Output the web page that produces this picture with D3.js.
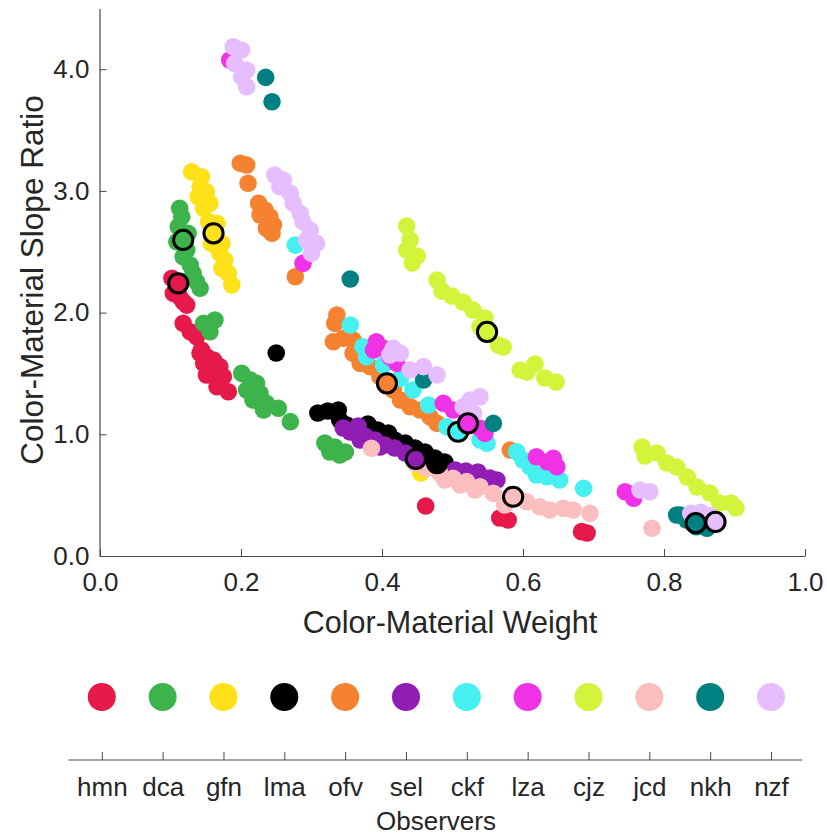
<!DOCTYPE html>
<html>
<head>
<meta charset="utf-8">
<script src="https://cdn.jsdelivr.net/npm/d3@7/dist/d3.min.js"></script>
<style>
  html, body { margin: 0; padding: 0; background: #fff; }
  svg { display: block; font-family: "Liberation Sans", Arial, Helvetica, sans-serif; }
</style>
</head>
<body>
<svg id="chart" width="827" height="837"></svg>
<script>
// ---------------- data ----------------
const observers = ["hmn","dca","gfn","lma","ofv","sel","ckf","lza","cjz","jcd","nkh","nzf"];
const palette = ["#E6194B","#3CB44B","#FFE119","#000000","#F58231","#911EB4","#46F0F0","#F032E6","#D2F53C","#FABEBE","#008080","#E6BEFF"];

const xTicks = [0.0, 0.2, 0.4, 0.6, 0.8, 1.0];
const yTicks = [0.0, 1.0, 2.0, 3.0, 4.0];

const hmn = [[0.102,2.282],[0.111,2.241],[0.104,2.159],[0.113,2.131],[0.118,2.090],[0.123,2.062],[0.118,1.912],[0.128,1.843],[0.137,1.802],[0.142,1.666],[0.144,1.693],[0.151,1.638],[0.147,1.583],[0.161,1.611],[0.156,1.528],[0.170,1.556],[0.151,1.487],[0.166,1.446],[0.175,1.474],[0.166,1.391],[0.182,1.350],[0.462,0.411],[0.567,0.312],[0.579,0.296],[0.683,0.200],[0.691,0.189]];
const dca = [[0.113,2.857],[0.116,2.788],[0.111,2.706],[0.125,2.652],[0.118,2.597],[0.109,2.583],[0.123,2.514],[0.118,2.459],[0.128,2.391],[0.132,2.323],[0.137,2.254],[0.142,2.200],[0.147,1.912],[0.156,1.898],[0.163,1.939],[0.156,1.843],[0.201,1.501],[0.213,1.446],[0.222,1.419],[0.208,1.364],[0.227,1.337],[0.217,1.282],[0.236,1.255],[0.232,1.200],[0.253,1.214],[0.270,1.104],[0.319,0.929],[0.333,0.896],[0.340,0.830],[0.348,0.855],[0.326,0.855]];
const gfn = [[0.130,3.158],[0.144,3.117],[0.142,3.035],[0.151,2.993],[0.139,2.952],[0.156,2.898],[0.147,2.857],[0.154,2.747],[0.166,2.734],[0.161,2.652],[0.158,2.569],[0.173,2.569],[0.170,2.487],[0.177,2.432],[0.173,2.364],[0.182,2.323],[0.187,2.227],[0.455,0.682]];
const lma = [[0.250,1.668],[0.309,1.175],[0.323,1.191],[0.338,1.200],[0.340,1.118],[0.350,1.076],[0.366,1.052],[0.380,1.085],[0.394,1.035],[0.409,1.011],[0.418,0.953],[0.433,0.929],[0.447,0.887],[0.461,0.855],[0.475,0.805],[0.489,0.772]];
const ofv = [[0.199,3.227],[0.208,3.213],[0.210,3.063],[0.225,2.898],[0.234,2.843],[0.227,2.802],[0.241,2.788],[0.246,2.720],[0.236,2.693],[0.244,2.652],[0.277,2.295],[0.336,1.980],[0.333,1.912],[0.331,1.761],[0.345,1.789],[0.359,1.775],[0.359,1.666],[0.369,1.583],[0.383,1.556],[0.397,1.474],[0.407,1.419],[0.416,1.364],[0.426,1.282],[0.440,1.227],[0.454,1.200],[0.468,1.145],[0.478,1.090],[0.582,0.871]];
const sel = [[0.345,1.052],[0.355,1.019],[0.366,1.068],[0.376,0.986],[0.369,0.953],[0.390,0.953],[0.397,0.896],[0.404,0.912],[0.418,0.887],[0.433,0.846],[0.443,0.805],[0.448,0.797],[0.468,0.740],[0.482,0.723],[0.504,0.707],[0.519,0.698],[0.536,0.690],[0.553,0.641],[0.563,0.624]];
const ckf = [[0.277,2.555],[0.355,1.898],[0.373,1.720],[0.378,1.638],[0.402,1.569],[0.426,1.460],[0.444,1.364],[0.466,1.241],[0.492,1.062],[0.508,1.021],[0.539,0.953],[0.549,0.926],[0.591,0.857],[0.600,0.789],[0.610,0.734],[0.619,0.666],[0.634,0.652],[0.652,0.624],[0.686,0.556]];
const lza = [[0.184,4.076],[0.288,2.405],[0.388,1.693],[0.392,1.761],[0.402,1.707],[0.411,1.638],[0.421,1.583],[0.487,1.255],[0.501,1.200],[0.520,1.118],[0.522,1.090],[0.539,1.049],[0.546,1.008],[0.619,0.816],[0.634,0.775],[0.643,0.803],[0.648,0.734],[0.745,0.528],[0.757,0.474]];
const cjz = [[0.435,2.712],[0.440,2.597],[0.435,2.514],[0.450,2.465],[0.443,2.408],[0.478,2.268],[0.485,2.177],[0.499,2.136],[0.515,2.087],[0.529,2.021],[0.546,1.956],[0.539,1.882],[0.549,1.841],[0.565,1.734],[0.572,1.717],[0.596,1.528],[0.606,1.512],[0.617,1.578],[0.631,1.463],[0.647,1.430],[0.769,0.896],[0.773,0.822],[0.790,0.846],[0.804,0.764],[0.818,0.731],[0.833,0.649],[0.847,0.567],[0.865,0.518],[0.879,0.436],[0.895,0.436],[0.902,0.394]];
const jcd = [[0.385,0.885],[0.447,0.762],[0.463,0.721],[0.482,0.680],[0.489,0.624],[0.501,0.638],[0.511,0.583],[0.520,0.611],[0.532,0.542],[0.539,0.569],[0.558,0.515],[0.574,0.419],[0.586,0.487],[0.605,0.446],[0.624,0.405],[0.638,0.378],[0.657,0.392],[0.671,0.378],[0.695,0.351],[0.783,0.228]];
const nkh = [[0.235,3.933],[0.244,3.733],[0.355,2.276],[0.459,1.446],[0.558,1.090],[0.818,0.337],[0.823,0.337],[0.832,0.296],[0.846,0.241],[0.845,0.270],[0.861,0.228]];
const nzf = [[0.189,4.185],[0.201,4.158],[0.191,4.048],[0.208,3.993],[0.201,3.938],[0.208,3.856],[0.248,3.131],[0.260,3.090],[0.255,3.035],[0.270,2.980],[0.274,2.898],[0.284,2.816],[0.288,2.747],[0.298,2.679],[0.293,2.597],[0.307,2.569],[0.300,2.487],[0.416,1.707],[0.426,1.666],[0.411,1.652],[0.440,1.528],[0.459,1.556],[0.478,1.487],[0.525,1.282],[0.539,1.309],[0.515,1.227],[0.530,1.173],[0.766,0.542],[0.780,0.528],[0.838,0.350],[0.852,0.360],[0.866,0.330],[0.873,0.280]];

// reference (circled) point of each observer
const refX = [0.111,0.118,0.161,0.478,0.407,0.448,0.508,0.522,0.549,0.586,0.845,0.873];
const refY = [2.241,2.597,2.652,0.764,1.419,0.797,1.021,1.090,1.841,0.487,0.270,0.280];

const seriesPoints = [hmn,dca,gfn,lma,ofv,sel,ckf,lza,cjz,jcd,nkh,nzf];

// ---------------- drawing ----------------
const svg = d3.select("#chart");
const textColor = "#262626";
const axisColor = "#4a4a4a";

const x = d3.scaleLinear().domain([0, 1]).range([100, 805]);
const y = d3.scaleLinear().domain([0, 4.5]).range([556, 8.4]);

// axes
const xAxis = d3.axisBottom(x).tickValues(xTicks).tickFormat(d3.format(".1f"))
  .tickSizeInner(-7).tickSizeOuter(0).tickPadding(17);
const yAxis = d3.axisLeft(y).tickValues(yTicks).tickFormat(d3.format(".1f"))
  .tickSizeInner(-7).tickSizeOuter(0).tickPadding(10);

const gx = svg.append("g").attr("transform", "translate(0,556)").call(xAxis);
const gy = svg.append("g").attr("transform", "translate(99.5,0)").call(yAxis);
[gx, gy].forEach(g => {
  g.select(".domain").attr("stroke", axisColor).attr("stroke-width", 1.2);
  g.selectAll(".tick line").attr("stroke", axisColor).attr("stroke-width", 1);
  g.selectAll(".tick text").attr("fill", textColor).style("font-size", "26px");
});

svg.append("text").attr("x", 450).attr("y", 633).attr("text-anchor", "middle")
  .attr("fill", textColor).style("font-size", "30.5px").text("Color-Material Weight");
svg.append("text").attr("transform", "translate(43,280) rotate(-90)").attr("text-anchor", "middle")
  .attr("fill", textColor).style("font-size", "31.5px").text("Color-Material Slope Ratio");

// points
const plot = svg.append("g");
seriesPoints.forEach((pts, i) => {
  plot.append("g").selectAll("circle").data(pts).join("circle")
    .attr("cx", d => x(d[0])).attr("cy", d => y(d[1])).attr("r", 8.8)
    .attr("fill", palette[i]);
});
// reference rings
plot.append("g").selectAll("circle").data(observers).join("circle")
  .attr("cx", (d, i) => x(refX[i])).attr("cy", (d, i) => y(refY[i])).attr("r", 9.6)
  .attr("fill", (d, i) => palette[i]).attr("stroke", "#000").attr("stroke-width", 3);

// legend
const lx = d3.scalePoint().domain(observers).range([101.8, 771]);
const legAxis = d3.axisBottom(lx).tickSizeInner(-8).tickSizeOuter(0).tickPadding(18);
const gl = svg.append("g").attr("transform", "translate(0,760)").call(legAxis);
gl.select(".domain").attr("d", "M68.5,0H802").attr("stroke", axisColor).attr("stroke-width", 1.2);
gl.selectAll(".tick line").attr("stroke", axisColor);
gl.selectAll(".tick text").attr("fill", textColor).style("font-size", "26px");

svg.append("g").selectAll("circle").data(observers).join("circle")
  .attr("cx", d => lx(d)).attr("cy", 697).attr("r", 14)
  .attr("fill", (d, i) => palette[i]);

svg.append("text").attr("x", 436).attr("y", 830).attr("text-anchor", "middle")
  .attr("fill", textColor).style("font-size", "26px").text("Observers");
</script>
</body>
</html>
